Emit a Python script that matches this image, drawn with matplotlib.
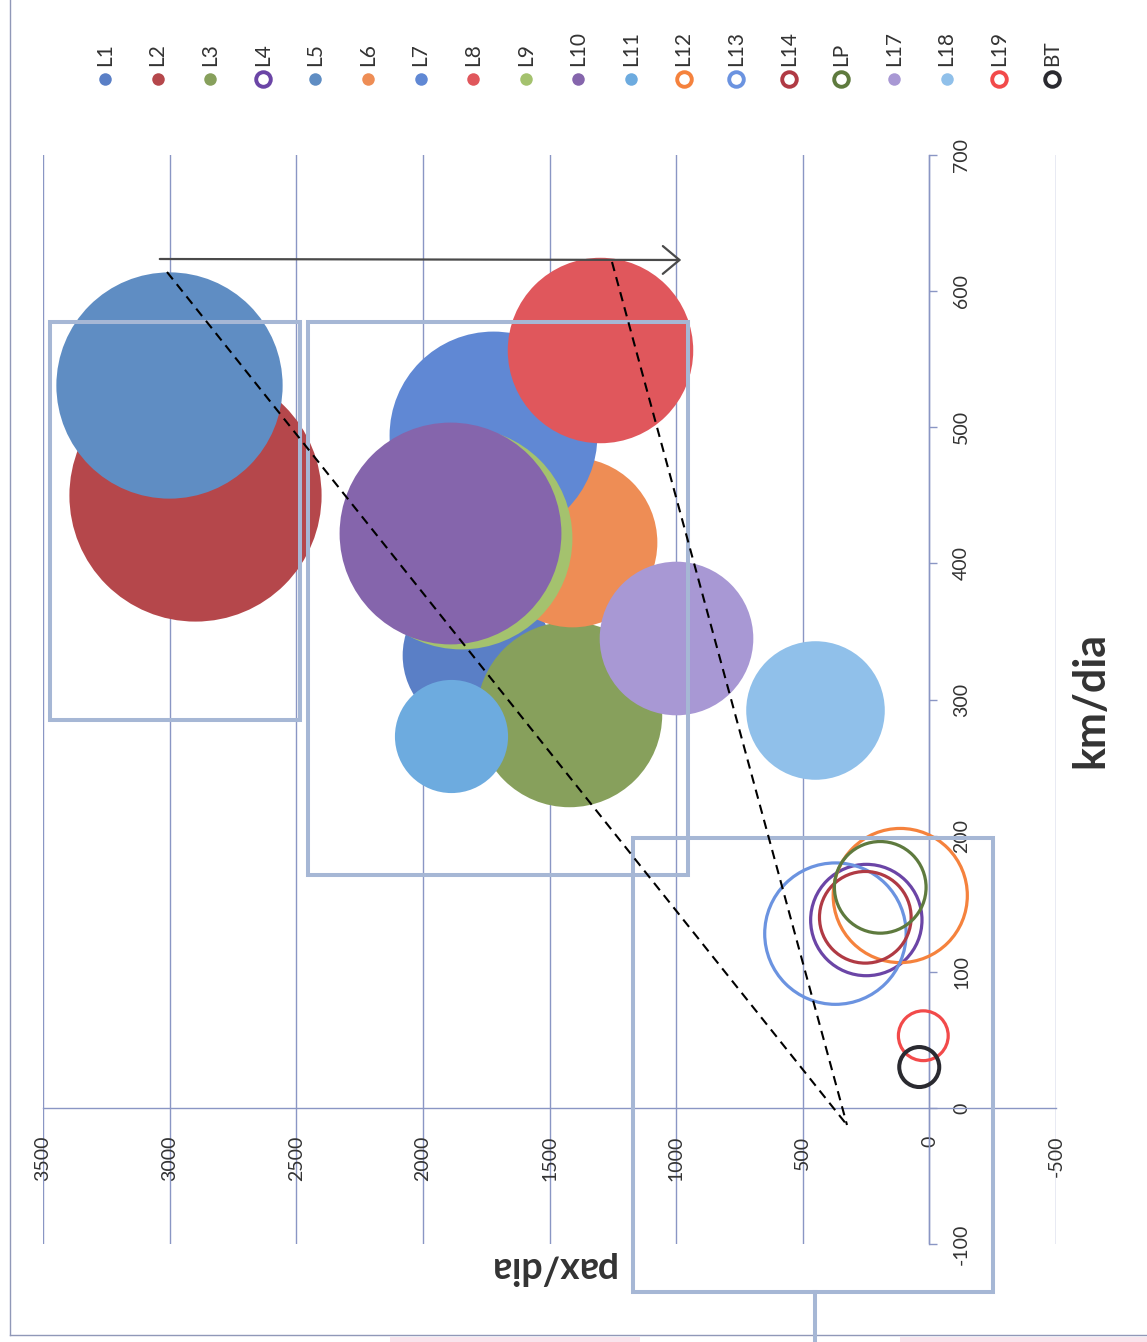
import matplotlib
matplotlib.use('Agg')
import matplotlib.pyplot as plt
from matplotlib.patches import Rectangle, FancyArrowPatch

plt.rcParams['font.family'] = ['Lato', 'DejaVu Sans']

# ---------------- data ----------------
series = ['L1', 'L2', 'L3', 'L4', 'L5', 'L6', 'L7', 'L8', 'L9', 'L10',
          'L11', 'L12', 'L13', 'L14', 'LP', 'L17', 'L18', 'L19', 'BT']
km_dia = [333, 450, 289, 138, 531, 416, 494, 557, 419, 422,
          273, 156, 128, 140, 162, 345, 292, 53, 30]
pax_dia = [1785, 2899, 1422, 249, 3002, 1410, 1722, 1300, 1849, 1892,
           1888, 115, 371, 253, 194, 999, 450, 24, 40]
bubble_size = [56, 159, 86, 31, 128, 72, 108, 86, 123, 123,
               32, 45, 50, 21, 21, 59, 48, 6.2, 4.0]

pax_ticks = [-500, 0, 500, 1000, 1500, 2000, 2500, 3000, 3500]
km_ticks = [-100, 0, 100, 200, 300, 400, 500, 600, 700]

# ---------------- style ----------------
hollow = [False, False, False, True, False, False, False, False, False, False,
          False, True, True, True, True, False, False, True, True]
colors = ['#5A7FC6', '#B5474B', '#87A05C', '#6B45A6', '#5F8DC3', '#EE8D55',
          '#6088D4', '#E0575C', '#A4C26E', '#8565AC', '#6DABDF', '#F5823D',
          '#6B93E0', '#B03A44', '#5E7A3E', '#A898D4', '#90C0EA', '#F24A4A',
          '#2A2A30']
GRID = '#8A96C4'
BOX = '#A6B7D5'
TXT = '#333333'

W, H, DPI = 1147, 1342, 100
PX = 72.0 / DPI             # points per pixel
SIZE_SCALE = 100 * (2 * PX) ** 2

fig = plt.figure(figsize=(W / DPI, H / DPI), dpi=DPI)
fig.patch.set_facecolor('white')

# plot area (chart is shown rotated 90 degrees)
left, right, top, bottom = 43, 1056, 155, 1244
ax = fig.add_axes([left / W, 1 - bottom / H, (right - left) / W, (bottom - top) / H])
ax.set_xlim(3500, -500)
ax.set_ylim(-100, 700)
ax.set_facecolor('none')
for s in ['left', 'top']:
    ax.spines[s].set_visible(False)
ax.spines['bottom'].set_position(('data', 0))
ax.spines['right'].set_position(('data', 0))
for s in ['bottom', 'right']:
    ax.spines[s].set_color(GRID)
    ax.spines[s].set_linewidth(1.0)
ax.yaxis.tick_right()
ax.set_xticks(pax_ticks)
ax.set_yticks(km_ticks)
ax.set_xticklabels([str(v) for v in pax_ticks])
ax.set_yticklabels([str(v) for v in km_ticks])
ax.xaxis.grid(True, color=GRID, lw=1.0)
ax.set_axisbelow(True)
ax.tick_params(axis='x', length=0, pad=20, labelrotation=90, labelsize=14,
               labelcolor=TXT)
ax.tick_params(axis='y', direction='out', length=6, width=1, color=GRID,
               pad=11, labelrotation=90, labelsize=14, labelcolor=TXT)
for lbl in ax.get_yticklabels():
    lbl.set_va('center')

for i, name in enumerate(series):
    if hollow[i]:
        ax.scatter(pax_dia[i], km_dia[i], s=bubble_size[i] * SIZE_SCALE,
                   facecolors='none', edgecolors=colors[i],
                   linewidths=2.9 if name == 'BT' else 2.3, zorder=3 + i * 0.01)
    else:
        ax.scatter(pax_dia[i], km_dia[i], s=bubble_size[i] * SIZE_SCALE,
                   color=colors[i], linewidths=0, zorder=3 + i * 0.01)

# ---------------- overlay (pixel coordinates) ----------------
ov = fig.add_axes([0, 0, 1, 1], zorder=5)
ov.set_xlim(0, W)
ov.set_ylim(H, 0)
ov.axis('off')

# frame of the scanned page
ov.plot([10, 10], [0, 1335], color='#9098B8', lw=1)
ov.plot([10, W], [1335, 1335], color='#9098B8', lw=1)
ov.add_patch(Rectangle((390, 1337), 250, 6, color='#F9E4EC', lw=0))
ov.add_patch(Rectangle((900, 1337), 247, 6, color='#F9E4EC', lw=0))

# group boxes
for (x0, y0, x1, y1) in [(50, 322, 300, 720), (308, 322, 688, 875), (633, 838, 993, 1292)]:
    ov.add_patch(Rectangle((x0, y0), x1 - x0, y1 - y0, fill=False,
                           edgecolor=BOX, lw=2.9))
ov.plot([815, 815], [1292, 1342], color=BOX, lw=2.9)

# dashed guide lines
ov.plot([167, 847], [272, 1125], color='black', lw=1.5, ls=(0, (4.5, 3)))
ov.plot([612, 847], [262, 1125], color='black', lw=1.5, ls=(0, (4.5, 3)))

# arrow
ov.add_patch(FancyArrowPatch((157, 259), (684, 260),
                             arrowstyle='->,head_length=0.6,head_width=0.5',
                             mutation_scale=20, color='#4A4A4A', lw=1.6))

# axis titles
ov.text(1090, 700, 'km/dia', rotation=90, ha='center', va='center',
        fontsize=31, fontweight='bold', color=TXT)
ov.text(551, 1268, 'pax/dia', rotation=180, ha='center', va='center',
        fontsize=27, fontweight='bold', color=TXT)

# legend
for i, name in enumerate(series):
    x = 105 + 52.6 * i
    if hollow[i]:
        ov.plot(x, 79, marker='o', ms=10.5, mfc='none', mec=colors[i], mew=2.8)
    else:
        ov.plot(x, 79, marker='o', ms=9, mfc=colors[i], mec=colors[i], mew=0)
    ov.text(x, 66, name, rotation=90, ha='center', va='bottom',
            fontsize=15, color=TXT)

fig.savefig('out.png', dpi=DPI)
